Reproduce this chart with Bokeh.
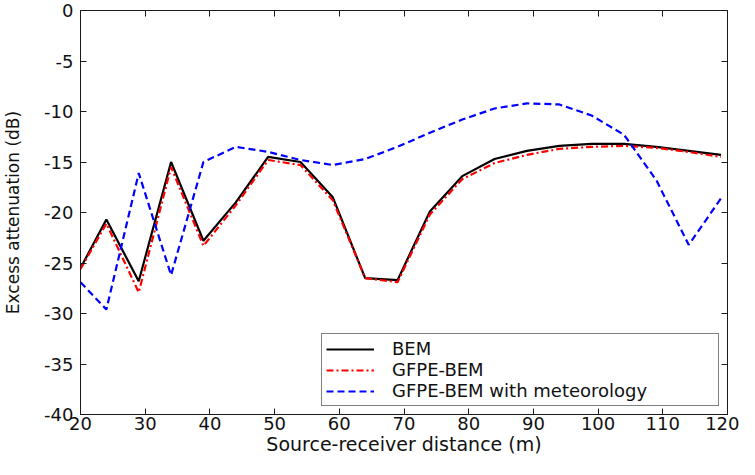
from bokeh.plotting import figure
from bokeh.models import LinearAxis, FixedTicker, Range1d, Legend, LegendItem, PrintfTickFormatter
from bokeh.embed import file_html
from bokeh.resources import INLINE

# ---- data ----
distance = [20, 24, 29, 34, 39, 44, 49, 54, 59, 64, 69, 74, 79, 84, 89, 94, 99, 104, 109, 114, 119]
bem = [-25.5, -20.7, -26.8, -15.0, -22.8, -19.0, -14.5, -15.0, -18.5, -26.5, -26.7,
       -19.9, -16.4, -14.7, -13.9, -13.4, -13.2, -13.2, -13.5, -13.9, -14.3]
gfpe_bem = [-25.6, -21.1, -27.9, -15.5, -23.3, -19.3, -14.8, -15.3, -18.8, -26.5, -26.9,
            -20.2, -16.7, -15.1, -14.3, -13.7, -13.5, -13.4, -13.6, -14.0, -14.5]
gfpe_met = [-26.9, -29.6, -16.1, -26.2, -15.0, -13.5, -14.0, -14.8, -15.3, -14.7, -13.5,
            -12.1, -10.8, -9.7, -9.2, -9.3, -10.4, -12.3, -16.8, -23.2, -18.6]
x_ticks = [20, 30, 40, 50, 60, 70, 80, 90, 100, 110, 120]
y_ticks = [-40, -35, -30, -25, -20, -15, -10, -5, 0]
series_names = ["BEM", "GFPE-BEM", "GFPE-BEM with meteorology"]

FONT = "DejaVu Sans"
AXC = "#1a1a1a"

p = figure(frame_width=647, frame_height=404, output_backend="svg", toolbar_location=None,
           x_range=Range1d(20, 120), y_range=Range1d(-40, 0),
           min_border_left=79, min_border_top=10, min_border_right=12, min_border_bottom=45)
p.background_fill_color = "white"
p.border_fill_color = "white"
p.outline_line_color = AXC
p.xgrid.visible = False
p.ygrid.visible = False

def style_axis(ax, ticks, show_labels):
    ax.ticker = FixedTicker(ticks=ticks)
    ax.major_tick_in = 6
    ax.major_tick_out = 0
    ax.minor_tick_line_color = None
    ax.axis_line_color = AXC
    ax.major_tick_line_color = AXC
    ax.major_label_text_font = FONT
    ax.major_label_text_color = "#111111"
    if show_labels:
        ax.major_label_text_font_size = "18px"
    else:
        ax.major_label_text_font_size = "0px"
        ax.major_label_standoff = 0

style_axis(p.xaxis[0], x_ticks, True)
style_axis(p.yaxis[0], y_ticks, True)
p.yaxis[0].formatter = PrintfTickFormatter(format="%d")
p.xaxis[0].formatter = PrintfTickFormatter(format="%d")
p.xaxis[0].major_label_standoff = 2
p.yaxis[0].major_label_standoff = 7
p.xaxis[0].axis_label = "Source-receiver distance (m)"
p.yaxis[0].axis_label = "Excess attenuation (dB)"
p.xaxis[0].axis_label_text_font = FONT
p.yaxis[0].axis_label_text_font = FONT
p.xaxis[0].axis_label_text_font_style = "normal"
p.yaxis[0].axis_label_text_font_style = "normal"
p.xaxis[0].axis_label_text_font_size = "19px"
p.yaxis[0].axis_label_text_font_size = "17px"
p.xaxis[0].axis_label_standoff = 0
p.yaxis[0].axis_label_standoff = 18
p.xaxis[0].axis_label_text_color = "#111111"
p.yaxis[0].axis_label_text_color = "#111111"

top = LinearAxis()
style_axis(top, x_ticks, False)
p.add_layout(top, "above")
right = LinearAxis()
style_axis(right, y_ticks, False)
p.add_layout(right, "right")

r1 = p.line(distance, bem, line_color="black", line_width=2.2)
r2 = p.line(distance, gfpe_bem, line_color="#ff0000", line_width=2.2, line_dash="7 3 2 3")
r3 = p.line(distance, gfpe_met, line_color="#0000ff", line_width=2.2, line_dash="7 4")

legend = Legend(items=[LegendItem(label=series_names[0], renderers=[r1]),
                       LegendItem(label=series_names[1], renderers=[r2]),
                       LegendItem(label=series_names[2], renderers=[r3])],
                location=(241, 8))
legend.label_text_font = FONT
legend.label_text_font_size = "18px"
legend.label_text_color = "#111111"
legend.glyph_width = 48
legend.glyph_height = 18
legend.label_height = 18
legend.label_width = 322
legend.label_standoff = 18
legend.padding = 4
legend.spacing = 0
legend.margin = 0
legend.border_line_color = "black"
legend.border_line_width = 1.5
legend.background_fill_color = "white"
legend.background_fill_alpha = 1
p.add_layout(legend, "center")

open("out.html", "w").write(file_html(p, INLINE))
